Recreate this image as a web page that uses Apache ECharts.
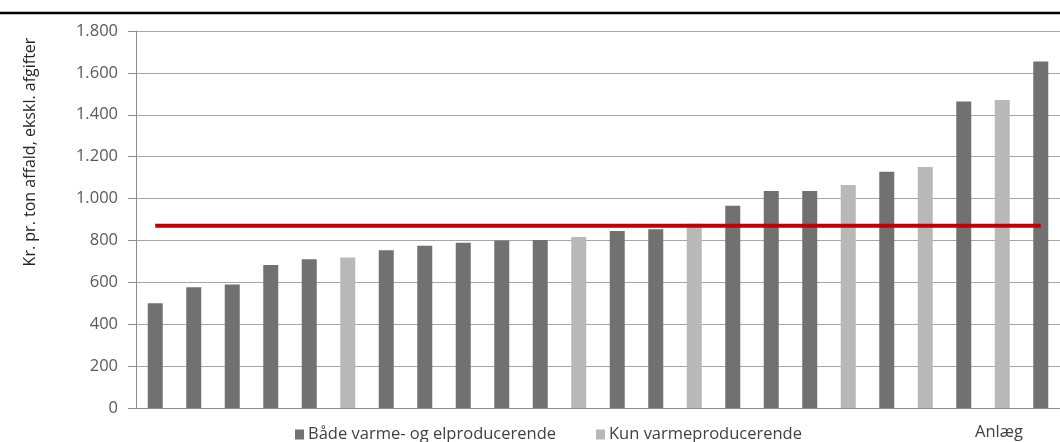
<!DOCTYPE html>
<html>
<head>
<meta charset="utf-8">
<script src="https://cdn.jsdelivr.net/npm/echarts@6/dist/echarts.min.js"></script>
<style>
html,body{margin:0;padding:0;background:#fff;}
#chart{width:1060px;height:442px;}
</style>
</head>
<body>
<div id="chart"></div>
<script>
// Data
var categories = ['1','2','3','4','5','6','7','8','9','10','11','12','13','14','15','16','17','18','19','20','21','22','23','24'];
var bothValues = [500, 576, 590, 683, 710, null, 753, 775, 789, 800, 802, null, 845, 853, null, 966, 1036, 1036, null, 1128, null, 1463, null, 1654];
var heatOnlyValues = [null, null, null, null, null, 718, null, null, null, null, null, 816, null, null, 880, null, null, null, 1065, null, 1151, null, 1471, null];
var averageValues = [870, 870, 870, 870, 870, 870, 870, 870, 870, 870, 870, 870, 870, 870, 870, 870, 870, 870, 870, 870, 870, 870, 870, 870];
var yTicks = { min: 0, max: 1800, interval: 200 };
var seriesNames = ['Både varme- og elproducerende', 'Kun varmeproducerende'];
var yAxisTitle = 'Kr. pr. ton affald, ekskl. afgifter';
var xAxisTitle = 'Anlæg';

var FONT = 'Open Sans';
var chart = echarts.init(document.getElementById('chart'), null, { renderer: 'canvas' });

function fmt(v) {
  return String(v).replace(/\B(?=(\d{3})+(?!\d))/g, '.');
}

var option = {
  animation: false,
  textStyle: { fontFamily: FONT },
  grid: { left: 136, right: -2, top: 31, bottom: 34, containLabel: false },
  legend: {
    data: seriesNames,
    left: 290,
    top: 421,
    itemWidth: 9,
    itemHeight: 10,
    itemGap: 40,
    icon: 'rect',
    textStyle: { fontFamily: FONT, fontSize: 16.5, color: '#404040', padding: [0, 0, 0, -1] }
  },
  xAxis: {
    type: 'category',
    data: categories,
    axisLine: { lineStyle: { color: '#8c8c8c', width: 1 } },
    axisTick: { show: false },
    axisLabel: { show: false },
    splitLine: { show: false }
  },
  yAxis: {
    type: 'value',
    min: yTicks.min,
    max: yTicks.max,
    interval: yTicks.interval,
    axisLine: { show: true, lineStyle: { color: '#8c8c8c', width: 1 } },
    axisTick: { show: true, length: 8, lineStyle: { color: '#8c8c8c' } },
    axisLabel: { formatter: fmt, fontFamily: FONT, fontSize: 16.5, color: '#595959', margin: 18 },
    splitLine: { show: true, lineStyle: { color: '#a6a6a6', width: 1 } }
  },
  series: [
    {
      name: seriesNames[0],
      type: 'bar',
      data: bothValues,
      barWidth: 15,
      barGap: '-100%',
      itemStyle: { color: '#717171' }
    },
    {
      name: seriesNames[1],
      type: 'bar',
      data: heatOnlyValues,
      barWidth: 15,
      barGap: '-100%',
      itemStyle: { color: '#b8b8b8' }
    },
    {
      name: 'Gennemsnit',
      type: 'line',
      data: averageValues,
      showSymbol: false,
      symbol: 'none',
      z: 5,
      lineStyle: { color: '#c00000', width: 4, cap: 'butt' }
    }
  ],
  graphic: [
    {
      type: 'line',
      shape: { x1: 0, y1: 13, x2: 1060, y2: 13 },
      style: { stroke: '#000', lineWidth: 2.5 }
    },
    {
      type: 'text',
      x: 30,
      y: 152,
      rotation: Math.PI / 2,
      style: {
        text: yAxisTitle,
        fontFamily: FONT,
        fontSize: 16,
        fill: '#262626',
        align: 'center',
        verticalAlign: 'middle'
      }
    },
    {
      type: 'text',
      x: 975,
      y: 432,
      style: {
        text: xAxisTitle,
        fontFamily: FONT,
        fontSize: 16.5,
        fill: '#404040',
        align: 'left',
        verticalAlign: 'middle'
      }
    }
  ]
};
chart.setOption(option);
</script>
</body>
</html>
